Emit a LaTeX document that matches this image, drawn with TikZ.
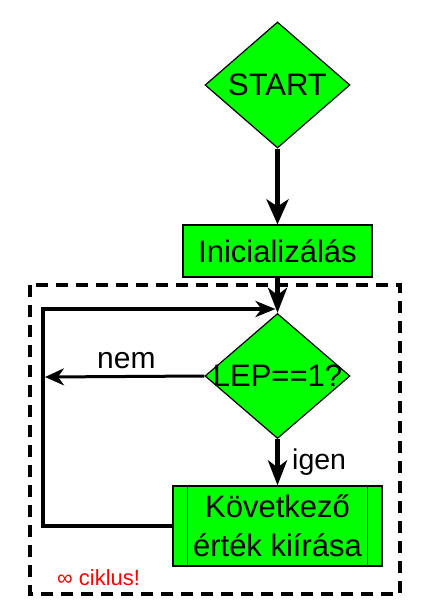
\documentclass[tikz,border=0pt]{standalone}
\usepackage{fontspec}
\setmainfont{Liberation Sans}
\usetikzlibrary{shapes.geometric,arrows.meta,calc}
\definecolor{lime}{RGB}{0,255,0}
\tikzset{
  dec/.style={diamond, draw=black, line width=1.2pt, fill=lime, inner sep=0pt,
    minimum width=145pt, minimum height=126pt},
  procbox/.style={rectangle, draw=black, line width=1.2pt, fill=lime, inner sep=0pt},
  bigtxt/.style={font=\fontsize{31}{39}\selectfont},
  flowthick/.style={line width=5.5pt, -{Stealth[length=25pt,width=22pt,inset=7pt]}},
  flowmid/.style={line width=5pt, -{Stealth[length=25pt,width=19pt,inset=7pt]}},
  loopline/.style={line width=3.6pt, -{Stealth[length=20pt,width=16pt,inset=6pt]}},
  nemline/.style={line width=3pt, -{Stealth[length=19pt,width=17pt,inset=6pt]}},
  framebox/.style={draw=black, line width=3.6pt, dash pattern=on 12pt off 8pt},
}
\begin{document}
\begin{tikzpicture}[x=1pt,y=-1pt]
\useasboundingbox (0,0) rectangle (421,608);
% dashed frame
\draw[framebox] (30,285) rectangle (400,594);
% nodes
\node[dec, label={[bigtxt]center:START}] (start) at (277.5,85) {};
\node[procbox, minimum width=189pt, minimum height=52pt, bigtxt] (init) at (277.5,251) {Inicializálás};
\node[dec, minimum height=125pt, label={[bigtxt]center:LEP==1?}] (lep) at (277.5,376) {};
\node[procbox, minimum width=209pt, minimum height=80pt, bigtxt, align=center] (kov) at (277.5,526) {Következő\\érték kiírása};
\draw[line width=1.2pt] ([xshift=15pt]kov.north west) -- ([xshift=15pt]kov.south west);
\draw[line width=1.2pt] ([xshift=-15pt]kov.north east) -- ([xshift=-15pt]kov.south east);
% coordinates
\coordinate (loopL) at (43,309);
\coordinate (loopR) at (275.5,309);
\coordinate (nemend) at (45,377);
% connectors
\draw[flowthick] (start.south) -- (init.north);
\draw[flowmid] (init.south) -- (lep.north);
\draw[flowmid] (lep.south) -- (kov.north);
\draw[loopline] (kov.west) -| (loopL) -- (loopR);
\draw[nemline] (lep.west) -- (nemend);
% labels
\node[font=\fontsize{30}{34}\selectfont, anchor=base west, inner sep=0pt] (nemlbl) at (97,368) {nem};
\node[font=\fontsize{28.5}{32}\selectfont, anchor=base west, inner sep=0pt] (igenlbl) at (292,469) {igen};
\node[font=\fontsize{22}{26}\selectfont, text=red, anchor=base west, inner sep=0pt] (ciklus) at (57,585) {∞ ciklus!};
\end{tikzpicture}
\end{document}
